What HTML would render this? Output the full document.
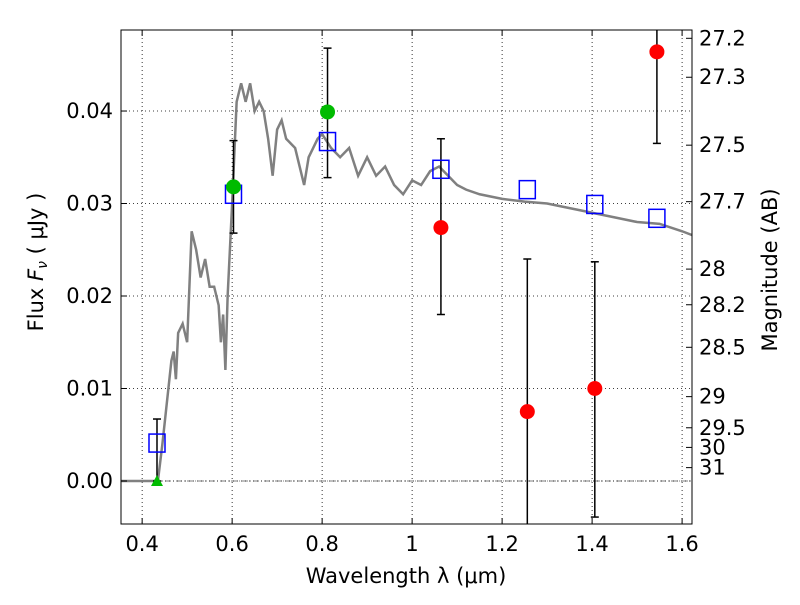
<!DOCTYPE html>
<html><head><meta charset="utf-8"><style>
body{margin:0;background:#fff}
svg text{font-family:"DejaVu Sans","Liberation Sans",sans-serif;fill:#000}
</style></head><body>
<svg id="c" width="800" height="600"></svg>
<script>
const xTicks=[0.4,0.6,0.8,1.0,1.2,1.4,1.6];
const xTickLabels=["0.4","0.6","0.8","1","1.2","1.4","1.6"];
const yTicks=[0,0.01,0.02,0.03,0.04];
const yTickLabels=["0.00","0.01","0.02","0.03","0.04"];
const magTicks=[27.2,27.3,27.5,27.7,28,28.2,28.5,29,29.5,30,31];
const magTickLabels=["27.2","27.3","27.5","27.7","28","28.2","28.5","29","29.5","30","31"];
const sedX=[0.35,0.435,0.445,0.465,0.47,0.475,0.48,0.49,0.5,0.51,0.52,0.53,0.54,0.55,0.56,0.57,0.575,0.58,0.585,0.59,0.6,0.61,0.62,0.63,0.64,0.65,0.66,0.67,0.68,0.69,0.7,0.71,0.72,0.74,0.75,0.76,0.77,0.78,0.79,0.8,0.82,0.84,0.86,0.88,0.9,0.92,0.94,0.96,0.98,1.0,1.02,1.04,1.06,1.08,1.1,1.12,1.15,1.2,1.25,1.3,1.35,1.4,1.45,1.5,1.55,1.6,1.627];
const sedY=[0,0,0.004,0.013,0.014,0.011,0.016,0.017,0.015,0.027,0.025,0.022,0.024,0.021,0.021,0.019,0.015,0.018,0.012,0.02,0.030,0.041,0.043,0.041,0.043,0.040,0.041,0.040,0.037,0.033,0.038,0.039,0.037,0.036,0.034,0.032,0.035,0.036,0.037,0.0375,0.036,0.035,0.036,0.033,0.035,0.033,0.034,0.032,0.031,0.0325,0.032,0.0335,0.034,0.033,0.032,0.0315,0.031,0.0305,0.0302,0.030,0.0295,0.029,0.0285,0.028,0.0278,0.027,0.0265];
const modelX=[0.433,0.603,0.812,1.064,1.256,1.406,1.544];
const modelY=[0.0041,0.0310,0.0367,0.0337,0.0315,0.0299,0.0284];
const redX=[1.064,1.256,1.406,1.544];
const redY=[0.0274,0.0075,0.0100,0.0464];
const redLo=[0.0180,-0.0100,-0.0039,0.0365];
const redHi=[0.0370,0.0240,0.0237,0.0560];
const greenX=[0.603,0.812];
const greenY=[0.0318,0.0399];
const greenLo=[0.0268,0.0328];
const greenHi=[0.0368,0.0468];
const limX=[0.433];
const limY=[0.0];
const limHi=[0.0067];

const L=121,R=692,T=30,B=524,xmin=0.353,xmax=1.622,ymin=-0.00465,ymax=0.04876;
const sx=v=>L+(v-xmin)/(xmax-xmin)*(R-L);
const sy=v=>B-(v-ymin)/(ymax-ymin)*(B-T);
const magToF=m=>Math.pow(10,-(m-23.9)/2.5);
const svg=document.getElementById('c');
const NS="http://www.w3.org/2000/svg";
function mk(tag,a,p){const e=document.createElementNS(NS,tag);for(const k in a)e.setAttribute(k,a[k]);(p||svg).appendChild(e);return e;}
const defs=mk('defs',{});const cp=mk('clipPath',{id:'cp'},defs);mk('rect',{x:L,y:T,width:R-L,height:B-T},cp);
const plot=mk('g',{'clip-path':'url(#cp)'});

xTicks.forEach(v=>{const g=mk('line',{x1:sx(v),x2:sx(v),y1:T,y2:B,stroke:'#000','stroke-dasharray':'1,3','stroke-width':0.8},plot);});
yTicks.forEach(v=>{const g=mk('line',{x1:L,x2:R,y1:sy(v),y2:sy(v),stroke:'#000','stroke-dasharray':'1,3','stroke-width':0.8},plot);});
const zl=mk('line',{x1:L,x2:R,y1:sy(0),y2:sy(0),stroke:'#000','stroke-dasharray':'6,2,1,2','stroke-width':0.6},plot);

const sp=mk('polyline',{points:sedX.map((x,i)=>sx(x)+','+sy(sedY[i])).join(' '),fill:'none',stroke:'#808080','stroke-width':2.5},plot);

function eb(x,lo,hi,name){const g=mk('g',{},plot);
mk('line',{x1:sx(x),x2:sx(x),y1:sy(lo),y2:sy(hi),stroke:'#000','stroke-width':1.5},g);
[lo,hi].forEach(v=>mk('line',{x1:sx(x)-4,x2:sx(x)+4,y1:sy(v),y2:sy(v),stroke:'#000','stroke-width':1.5},g));}
redX.forEach((x,i)=>eb(x,redLo[i],redHi[i],'red-error-bar'));
greenX.forEach((x,i)=>eb(x,greenLo[i],greenHi[i],'green-error-bar'));
limX.forEach((x,i)=>eb(x,limY[i],limHi[i],'limit-error-bar'));
modelX.forEach((x,i)=>{const r=mk('rect',{x:sx(x)-8,y:sy(modelY[i])-9,width:16,height:18,fill:'none',stroke:'#0000ff','stroke-width':1.5},plot);});
redX.forEach((x,i)=>{const c=mk('circle',{cx:sx(x),cy:sy(redY[i]),r:7.5,fill:'#ff0000'},plot);});
greenX.forEach((x,i)=>{const c=mk('circle',{cx:sx(x),cy:sy(greenY[i]),r:7.5,fill:'#00bb00'},plot);});
limX.forEach((x,i)=>{const X=sx(x),Y=sy(limY[i]);const t=mk('polygon',{points:`${X-6},${Y+5} ${X+6},${Y+5} ${X},${Y-6}`,fill:'#00bb00'},plot);});
const fr=mk('rect',{x:L,y:T,width:R-L,height:B-T,fill:'none',stroke:'#000','stroke-width':1});

xTicks.forEach((v,i)=>{mk('line',{x1:sx(v),x2:sx(v),y1:B,y2:B-6,stroke:'#000'});mk('line',{x1:sx(v),x2:sx(v),y1:T,y2:T+6,stroke:'#000'});
const t=mk('text',{x:sx(v),y:B+27,'text-anchor':'middle','font-size':21});t.textContent=xTickLabels[i];});
yTicks.forEach((v,i)=>{mk('line',{x1:L,x2:L+6,y1:sy(v),y2:sy(v),stroke:'#000'});
const t=mk('text',{x:L-8,y:sy(v)+7,'text-anchor':'end','font-size':21});t.textContent=yTickLabels[i];});
magTicks.forEach((m,i)=>{const y=sy(magToF(m));mk('line',{x1:R,x2:R-6,y1:y,y2:y,stroke:'#000'});
const t=mk('text',{x:R+7,y:y+7,'font-size':21});t.textContent=magTickLabels[i];});
let t=mk('text',{x:406,y:583,'text-anchor':'middle','font-size':21});t.textContent='Wavelength  λ (μm)';
t=mk('text',{x:0,y:0,'text-anchor':'middle','font-size':21,transform:'translate(43,262) rotate(-90)'});t.innerHTML='Flux  <tspan font-style="italic">F</tspan><tspan font-size="14" dy="4" font-style="italic">ν</tspan><tspan dy="-4">  (  μJy )</tspan>';
t=mk('text',{x:0,y:0,'text-anchor':'middle','font-size':21,transform:'translate(777,270) rotate(-90)'});t.textContent='Magnitude (AB)';
</script>
</body></html>
